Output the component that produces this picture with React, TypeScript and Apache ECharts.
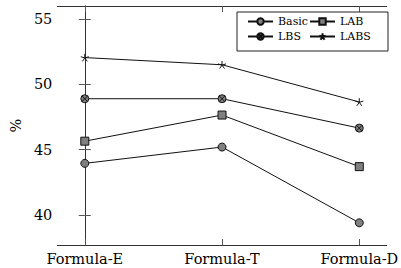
import React, { useEffect, useRef } from "react";
import * as echarts from "echarts";

const categories = ["Formula-E", "Formula-T", "Formula-D"];
const basic = [43.95, 45.2, 39.4];
const lab = [45.65, 47.65, 43.7];
const lbs = [48.9, 48.9, 46.65];
const labs = [52.05, 51.5, 48.65];
const yTicks = [40, 45, 50, 55];

const FONT = "DejaVu Serif";
const OTIMES =
  "path://M20,10A10,10,0,1,1,0,10A10,10,0,1,1,20,10ZM2.93,2.93L17.07,17.07M17.07,2.93L2.93,17.07";
const STAR =
  "path://M10,10L10,0M10,10L0.49,6.91M10,10L4.12,18.09M10,10L15.88,18.09M10,10L19.51,6.91";

const toPts = (arr: number[]) => arr.map((v, i) => [i, v]);

export default function App() {
  const ref = useRef<HTMLDivElement>(null);
  useEffect(() => {
    const chart = echarts.init(ref.current!, null, { renderer: "svg" });
    const axisLine = { show: true, lineStyle: { color: "#333", width: 1 } };
    const tick = (vals: number[]) => ({
      show: true,
      inside: true,
      length: 6,
      customValues: vals,
      lineStyle: { color: "#555", width: 1 },
    });
    const mk = (name: string, data: number[], symbol: string, size: number, fill: string) => ({
      name,
      type: "line",
      data: toPts(data),
      symbol,
      symbolSize: size,
      symbolKeepAspect: true,
      showSymbol: true,
      lineStyle: { color: "#111", width: 1 },
      itemStyle: { color: fill, borderColor: "#111", borderWidth: 1 },
      emphasis: { disabled: true },
    });
    const legendBase = {
      orient: "vertical",
      top: 16,
      itemWidth: 25,
      itemHeight: 8,
      itemGap: 4,
      padding: 0,
      textStyle: { fontFamily: FONT, fontSize: 11, color: "#000" },
      selectedMode: false,
    };
    chart.setOption({
      animation: false,
      textStyle: { fontFamily: FONT },
      grid: { left: 55, right: 11, top: 6, bottom: 23 },
      xAxis: [
        {
          type: "value",
          min: -0.2,
          max: 2.2,
          splitLine: { show: false },
          axisLine,
          axisTick: tick([0, 1, 2]),
          axisLabel: {
            customValues: [0, 1, 2],
            formatter: (v: number) => categories[Math.round(v)] ?? "",
            fontFamily: FONT,
            fontSize: 14.5,
            color: "#000",
            margin: 6,
          },
        },
        {
          type: "value",
          position: "top",
          min: -0.2,
          max: 2.2,
          splitLine: { show: false },
          axisLine,
          axisTick: tick([0, 1, 2]),
          axisLabel: { show: false },
        },
      ],
      yAxis: [
        {
          type: "value",
          min: 37.7,
          max: 56,
          name: "%",
          nameLocation: "middle",
          nameGap: 34,
          nameRotate: 90,
          nameTextStyle: { fontFamily: FONT, fontSize: 14.5, color: "#000" },
          splitLine: { show: false },
          axisLine,
          axisTick: tick(yTicks),
          axisLabel: {
            customValues: yTicks,
            fontFamily: FONT,
            fontSize: 14.5,
            color: "#000",
            margin: 5,
          },
        },
        {
          type: "value",
          position: "right",
          min: 37.7,
          max: 56,
          splitLine: { show: false },
          axisLine,
          axisTick: tick(yTicks),
          axisLabel: { show: false },
        },
      ],
      legend: [
        { ...legendBase, left: 247, data: ["Basic", "LBS"] },
        { ...legendBase, left: 309, data: ["LAB", "LABS"] },
      ],
      graphic: [
        {
          type: "rect",
          z: 1,
          shape: { x: 237, y: 12, width: 151, height: 39 },
          style: { fill: "#fff", stroke: "#222", lineWidth: 1 },
        },
      ],
      series: [
        mk("Basic", basic, "circle", 8, "#808080"),
        mk("LAB", lab, "rect", 8, "#808080"),
        mk("LBS", lbs, OTIMES, 8, "#808080"),
        mk("LABS", labs, STAR, 8, "#111"),
      ],
    });
    return () => chart.dispose();
  }, []);
  return (
    <div
      ref={ref}
      style={{ position: "absolute", left: 0, top: 0, width: 401, height: 268 }}
    />
  );
}
